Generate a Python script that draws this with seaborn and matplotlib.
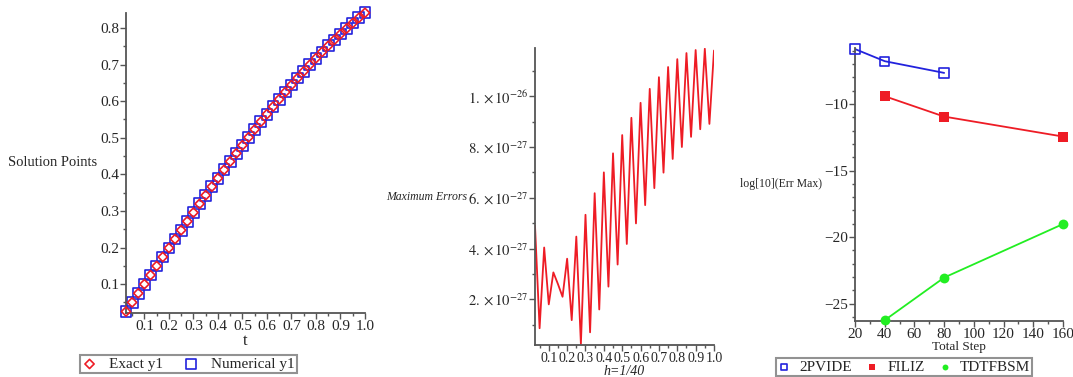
import numpy as np
import pandas as pd
import seaborn as sns
import matplotlib.pyplot as plt
from matplotlib.ticker import MultipleLocator, FixedLocator, FuncFormatter

sns.set_style("ticks")
plt.rcParams["font.family"] = ["Liberation Serif", "DejaVu Serif"]
plt.rcParams["mathtext.fontset"] = "stix"

# left panel: solution points
t = [0.025, 0.05, 0.075, 0.1, 0.125, 0.15, 0.175, 0.2, 0.225, 0.25,
     0.275, 0.3, 0.325, 0.35, 0.375, 0.4, 0.425, 0.45, 0.475, 0.5,
     0.525, 0.55, 0.575, 0.6, 0.625, 0.65, 0.675, 0.7, 0.725, 0.75,
     0.775, 0.8, 0.825, 0.85, 0.875, 0.9, 0.925, 0.95, 0.975, 1.0]
exact_y1 = [0.0250, 0.0500, 0.0749, 0.0998, 0.1247, 0.1494, 0.1741, 0.1987, 0.2231, 0.2474,
            0.2715, 0.2955, 0.3193, 0.3429, 0.3663, 0.3894, 0.4123, 0.4350, 0.4573, 0.4794,
            0.5012, 0.5227, 0.5438, 0.5646, 0.5851, 0.6052, 0.6249, 0.6442, 0.6631, 0.6816,
            0.6997, 0.7174, 0.7346, 0.7513, 0.7675, 0.7833, 0.7986, 0.8134, 0.8277, 0.8415]
numerical_y1 = list(exact_y1)

# middle panel: maximum errors (units of 1e-27)
max_err = [4.9, 0.86, 4.04, 1.8, 3.06, 2.6, 2.1, 3.6, 1.18, 4.47,
           0.24, 5.33, 0.7, 6.18, 1.6, 7.0, 2.5, 7.75, 3.37, 8.47,
           4.18, 9.15, 4.99, 9.74, 5.71, 10.29, 6.38, 10.75, 6.99, 11.15,
           7.53, 11.46, 8.0, 11.7, 8.4, 11.82, 8.7, 11.87, 8.91, 11.8]

# right panel: log10 of max error vs total step
steps_2pvide = [20, 40, 80]
log_2pvide = [-5.88, -6.79, -7.67]
steps_filiz = [40, 80, 160]
log_filiz = [-9.42, -10.95, -12.45]
steps_tdtfbsm = [40, 80, 160]
log_tdtfbsm = [-26.24, -23.04, -19.02]

RED = "#ee1c25"
BLUE = "#2222dd"
GREEN = "#22ee22"
SPINE = "#555555"

fig = plt.figure(figsize=(10.73, 3.77), dpi=100)
ax1 = fig.add_axes([126/1073, 64/377, 239/1073, 300/377])
ax2 = fig.add_axes([535/1073, 32/377, 179/1073, 297/377])
ax3 = fig.add_axes([855/1073, 56/377, 208/1073, 273/377])


def style(ax):
    sns.despine(ax=ax)
    for s in ("left", "bottom"):
        ax.spines[s].set_color(SPINE)
        ax.spines[s].set_linewidth(1.3)
    ax.tick_params(which="major", length=4, width=1, color=SPINE, labelsize=11, pad=1)
    ax.tick_params(which="minor", length=2.5, width=1, color=SPINE)


def boxed(leg):
    leg.get_frame().set_edgecolor("#777777")
    leg.get_frame().set_linewidth(1.5)


# ---- left panel
df1 = pd.DataFrame({"t": t, "Exact y1": exact_y1, "Numerical y1": numerical_y1})
sns.scatterplot(data=df1, x="t", y="Numerical y1", ax=ax1, marker="s", s=60,
                facecolor="none", edgecolor=BLUE, linewidth=1.2, label="Numerical y1",
                zorder=2, clip_on=False)
sns.scatterplot(data=df1, x="t", y="Exact y1", ax=ax1, marker="D", s=22,
                facecolor="none", edgecolor=RED, linewidth=1.2, label="Exact y1",
                zorder=3, clip_on=False)
ax1.set_xlim(0.025, 1.0)
ax1.set_ylim(0.021, 0.841)
ax1.xaxis.set_major_locator(FixedLocator(np.round(np.arange(0.1, 1.01, 0.1), 1)))
ax1.xaxis.set_minor_locator(MultipleLocator(0.05))
ax1.yaxis.set_major_locator(FixedLocator(np.round(np.arange(0.1, 0.81, 0.1), 1)))
ax1.yaxis.set_minor_locator(MultipleLocator(0.05))
ax1.xaxis.set_major_formatter(FuncFormatter(lambda v, p: f"{v:.1f}"))
ax1.yaxis.set_major_formatter(FuncFormatter(lambda v, p: f"{v:.1f}"))
ax1.set_xlabel("t", fontsize=12, labelpad=0)
ax1.set_ylabel("Solution Points", fontsize=10.5, rotation=0, ha="right", va="center")
ax1.yaxis.set_label_coords(-0.12, 0.5)
style(ax1)
h, l = ax1.get_legend_handles_labels()
leg = ax1.legend(h[::-1], l[::-1], loc="upper center", bbox_to_anchor=(0.26, -0.14), ncol=2,
                 frameon=True, fancybox=False, fontsize=11, handlelength=1.0, columnspacing=1.3,
                 handletextpad=0.8, borderpad=0.15, borderaxespad=0)
boxed(leg)

# ---- middle panel
df2 = pd.DataFrame({"h": t, "err": np.array(max_err) * 1e-27})
sns.lineplot(data=df2, x="h", y="err", ax=ax2, color=RED, linewidth=1.3)
ax2.set_xlim(0.025, 1.0)
ax2.set_ylim(0.2e-27, 11.9e-27)
ax2.xaxis.set_major_locator(FixedLocator(np.round(np.arange(0.1, 1.01, 0.1), 1)))
ax2.xaxis.set_minor_locator(MultipleLocator(0.05))
ax2.xaxis.set_major_formatter(FuncFormatter(lambda v, p: f"{v:.1f}"))
ax2.yaxis.set_major_locator(FixedLocator([2e-27, 4e-27, 6e-27, 8e-27, 1e-26]))
ax2.yaxis.set_minor_locator(FixedLocator([1e-27, 3e-27, 5e-27, 7e-27, 9e-27, 11e-27]))
ylabels = {2: r"$2.\times10^{-27}$", 4: r"$4.\times10^{-27}$", 6: r"$6.\times10^{-27}$",
           8: r"$8.\times10^{-27}$", 10: r"$1.\times10^{-26}$"}
ax2.yaxis.set_major_formatter(FuncFormatter(lambda v, p: ylabels.get(int(round(v * 1e27)), "")))
ax2.set_xlabel("h=1/40", fontsize=10, style="italic", labelpad=0)
ax2.set_ylabel("Maximum Errors", fontsize=8.5, style="italic", rotation=0, ha="right", va="center")
ax2.yaxis.set_label_coords(-0.38, 0.5)
style(ax2)
ax2.tick_params(axis="x", labelsize=10, pad=1)
ax2.tick_params(axis="y", labelsize=10.5)

# ---- right panel
df3 = pd.DataFrame({
    "step": steps_2pvide + steps_filiz + steps_tdtfbsm,
    "logerr": log_2pvide + log_filiz + log_tdtfbsm,
    "method": ["2PVIDE"] * 3 + ["FILIZ"] * 3 + ["TDTFBSM"] * 3,
})
palette = {"2PVIDE": BLUE, "FILIZ": RED, "TDTFBSM": GREEN}
sns.lineplot(data=df3, x="step", y="logerr", hue="method", palette=palette, ax=ax3,
             linewidth=1.3, legend=False)
sns.scatterplot(data=df3[df3["method"] == "2PVIDE"], x="step", y="logerr", ax=ax3,
                marker="s", s=45, facecolor="none", edgecolor=BLUE, linewidth=1.2,
                label="2PVIDE", zorder=3, clip_on=False)
sns.scatterplot(data=df3[df3["method"] == "FILIZ"], x="step", y="logerr", ax=ax3,
                marker="s", s=60, color=RED, linewidth=0, label="FILIZ", zorder=3,
                clip_on=False)
sns.scatterplot(data=df3[df3["method"] == "TDTFBSM"], x="step", y="logerr", ax=ax3,
                marker="o", s=50, color=GREEN, linewidth=0, label="TDTFBSM", zorder=3,
                clip_on=False)
ax3.set_xlim(20, 160)
ax3.set_ylim(-26.3, -5.8)
ax3.xaxis.set_major_locator(MultipleLocator(20))
ax3.xaxis.set_minor_locator(MultipleLocator(10))
ax3.yaxis.set_major_locator(FixedLocator([-25, -20, -15, -10]))
ax3.yaxis.set_minor_locator(MultipleLocator(1))
ax3.yaxis.set_major_formatter(FuncFormatter(lambda v, p: f"\u2212{abs(int(v))}"))
ax3.set_xlabel("Total Step", fontsize=9.5, labelpad=0)
ax3.set_ylabel("log[10](Err Max)", fontsize=8.5, rotation=0, ha="right", va="center")
ax3.yaxis.set_label_coords(-0.16, 0.5)
style(ax3)
ax3.tick_params(labelsize=11)
leg = ax3.legend(loc="upper center", bbox_to_anchor=(0.236, -0.135), ncol=3, frameon=True,
                 fancybox=False, fontsize=11, handlelength=0.8, columnspacing=0.9,
                 handletextpad=0.6, borderpad=0.15, borderaxespad=0, markerscale=0.6)
boxed(leg)

plt.savefig("out.png", dpi=100)
